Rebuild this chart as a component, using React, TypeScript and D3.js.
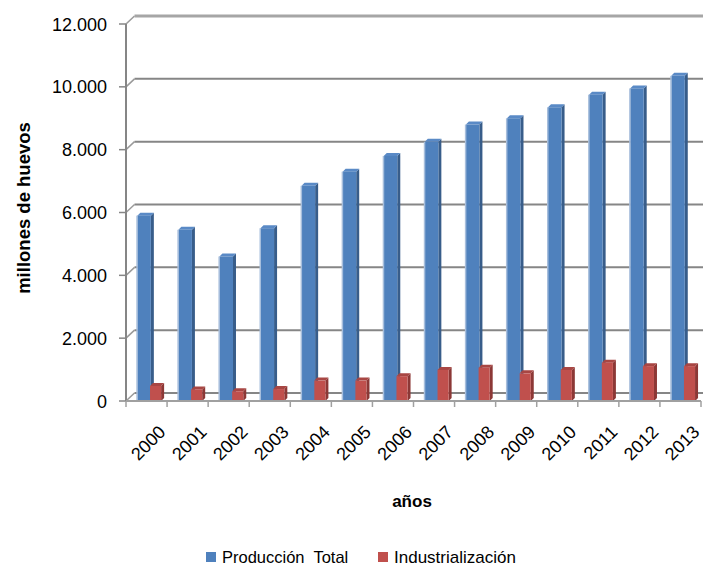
import React from "react";
import * as d3 from "d3";

const years = ["2000","2001","2002","2003","2004","2005","2006","2007","2008","2009","2010","2011","2012","2013"];
const produccionTotal = [5900,5450,4600,5500,6850,7300,7800,8250,8800,9000,9350,9750,9950,10350];
const industrializacion = [480,370,310,380,650,650,790,990,1060,880,990,1220,1110,1110];
const yTicks = [0,2000,4000,6000,8000,10000,12000];
const seriesNames = ["Producción  Total", "Industrialización"];

const W = 703, H = 567;
const FX0 = 126, FX1 = 701, FY0 = 401, FY1 = 24;
const DX = 8.5, DY = -8;
const D = 3;
const font = "'Liberation Sans', Arial, sans-serif";

const fmt = (v: number) => (v === 0 ? "0" : d3.format(",")(v).replace(/,/g, "."));

export default function App() {
  const x = d3.scaleBand<string>().domain(years).range([FX0, FX1]).padding(0);
  const y = d3.scaleLinear().domain([0, 12000]).range([FY0, FY1]);
  const bw = x.bandwidth();
  const blueOff = bw * 0.275, blueW = bw * 0.33;
  const redOff = bw * 0.585, redW = bw * 0.27;

  const bar = (x0: number, w: number, v: number, c: { front: string; side: string; top: string; light?: string }, key: string) => {
    const yt = y(v);
    const yb = FY0;
    return (
      <g key={key}>
        <polygon points={`${x0 + w},${yt} ${x0 + w + D},${yt - D} ${x0 + w + D},${yb - D} ${x0 + w},${yb}`} fill={c.side} />
        <polygon points={`${x0},${yt} ${x0 + D},${yt - D} ${x0 + w + D},${yt - D} ${x0 + w},${yt}`} fill={c.top} />
        <rect x={x0} y={yt} width={w} height={yb - yt} fill={c.front} />
        {c.light && <rect x={x0 - 1} y={yt} width={1.5} height={yb - yt} fill={c.light} />}
      </g>
    );
  };

  const blue = { front: "#4F81BD", side: "#385D8A", top: "#5A8AC6", light: "#A7BEDC" };
  const red = { front: "#C0504D", side: "#8C3836", top: "#A84643" };

  return (
    <svg width={W} height={H} style={{ position: "absolute", left: 0, top: 0, background: "#fff" }}>
      {/* back wall gridlines */}
      {yTicks.map((t) => (
        <g key={"g" + t}>
          <line x1={FX0} y1={y(t)} x2={FX0 + DX} y2={y(t) + DY} stroke="#9a9a9a" strokeWidth={1.5} />
          <line x1={FX0 + DX} y1={y(t) + DY} x2={W} y2={y(t) + DY}
            stroke={t === 12000 ? "#a6a6a6" : "#868686"} strokeWidth={t === 12000 ? 3 : 2} />
          <line x1={FX0 - 7} y1={y(t)} x2={FX0} y2={y(t)} stroke="#868686" strokeWidth={1.5} />
          <text x={107} y={y(t) + 6.5} textAnchor="end" fontFamily={font} fontSize={18} fill="#000">{fmt(t)}</text>
        </g>
      ))}
      {/* left axis */}
      <line x1={FX0} y1={FY1} x2={FX0} y2={FY0} stroke="#868686" strokeWidth={2} />
      {/* bars */}
      {years.map((yr, i) => {
        const x0 = x(yr)!;
        return (
          <g key={yr}>
            {bar(x0 + blueOff, blueW, produccionTotal[i], blue, "b" + yr)}
            {bar(x0 + redOff, redW, industrializacion[i], red, "r" + yr)}
          </g>
        );
      })}
      {/* front x axis */}
      <line x1={FX0} y1={FY0} x2={FX1} y2={FY0} stroke="#a0a0a0" strokeWidth={2} />
      {[...years.map((yr) => x(yr)!), FX1].map((xx, i) => (
        <line key={"t" + i} x1={xx} y1={FY0} x2={xx} y2={FY0 + 6} stroke="#a0a0a0" strokeWidth={1.5} />
      ))}
      {years.map((yr) => {
        const cx = x(yr)! + bw / 2;
        return (
          <text key={"l" + yr} transform={`translate(${cx + 11},${FY0 + 23}) rotate(-45)`} textAnchor="end"
            dy="0.72em" fontFamily={font} fontSize={18} fill="#000">{yr}</text>
        );
      })}
      {/* axis titles */}
      <text x={412} y={507} textAnchor="middle" fontFamily={font} fontSize={17} fontWeight="bold" fill="#000">años</text>
      <text transform="translate(30,208) rotate(-90)" textAnchor="middle" fontFamily={font} fontSize={18.5} fontWeight="bold" fill="#000">millones de huevos</text>
      {/* legend */}
      <rect x={206} y={552} width={10} height={10} fill="#4F81BD" />
      <text x={222} y={563} fontFamily={font} fontSize={16.5} fill="#000" style={{ whiteSpace: "pre" }}>{seriesNames[0]}</text>
      <rect x={378} y={552} width={10} height={10} fill="#C0504D" />
      <text x={394} y={563} fontFamily={font} fontSize={17} fill="#000">{seriesNames[1]}</text>
    </svg>
  );
}
